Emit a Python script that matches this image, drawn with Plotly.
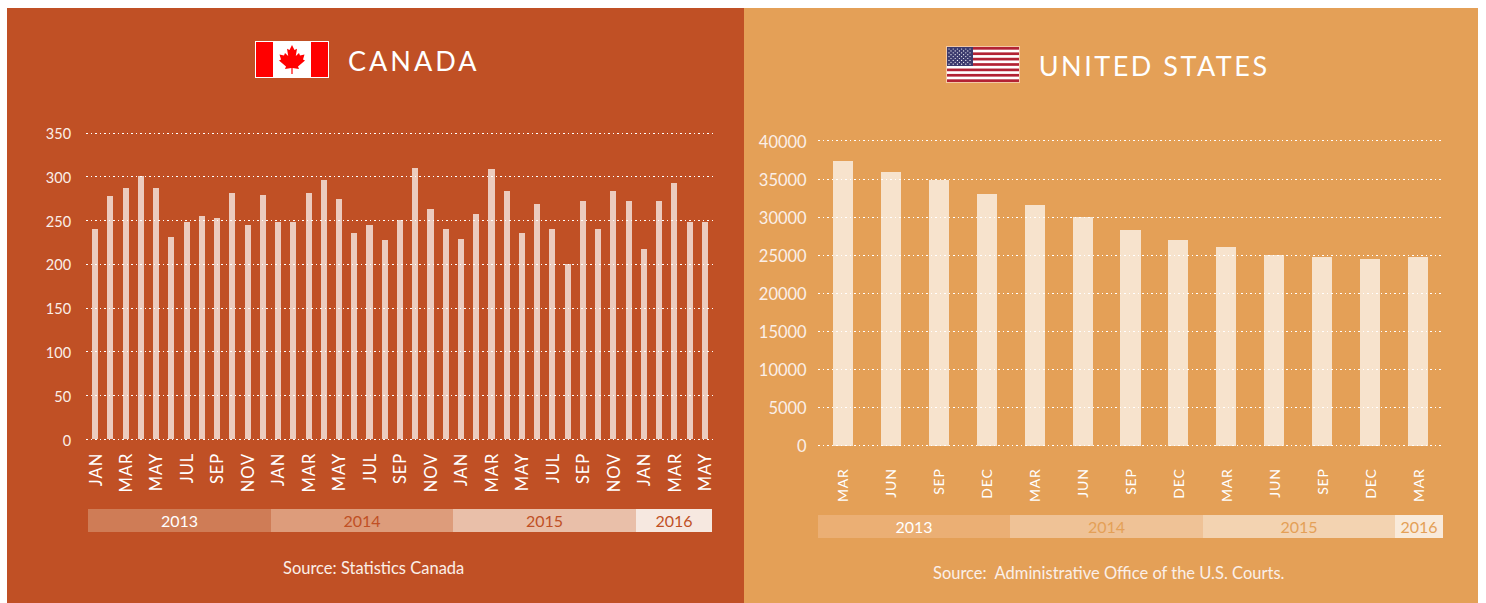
import base64
import plotly.graph_objects as go

W, H = 1486, 603

ca_months = ["JAN","FEB","MAR","APR","MAY","JUN","JUL","AUG","SEP","OCT","NOV","DEC"] * 3 + ["JAN","FEB","MAR","APR","MAY"]
ca_values = [240,278,287,300,287,231,248,255,253,281,244,279,
             248,248,281,296,274,235,244,227,250,310,263,240,
             229,257,308,283,235,268,240,200,272,240,283,272,
             217,272,293,248,248]
ca_yticks = [0,50,100,150,200,250,300,350]
ca_years = ["2013","2014","2015","2016"]
ca_year_months = [12,12,12,5]

us_months = ["MAR","JUN","SEP","DEC"] * 3 + ["MAR"]
us_values = [37400,36000,34900,33100,31600,30000,28300,27000,26100,25000,24800,24500,24800]
us_yticks = [0,5000,10000,15000,20000,25000,30000,35000,40000]
us_years = ["2013","2014","2015","2016"]
us_year_quarters = [4,4,4,1]

CA_BG, US_BG = "#C05025", "#E4A057"
ca_band = ["#CF7C56","#DD9C7B","#E9BFA9","#F6E8E0"]
ca_band_text = ["#FFFFFF",CA_BG,CA_BG,CA_BG]
us_band = ["#EBAF74","#EFC296","#F3D3B1","#F9EADA"]
us_band_text = ["#FFFFFF",US_BG,US_BG,US_BG]
FONT = "Lato"


def dx(a, b):
    return [a / W, b / W]


def dy(top, bottom):
    return [1 - bottom / H, 1 - top / H]


def svg_uri(svg):
    return "data:image/svg+xml;base64," + base64.b64encode(svg.encode()).decode()


def canada_flag():
    half = [(37,4),(39.5,9),(42,7.8),(40.8,15),(44,12),(45,14.5),(49.5,13.5),(48,18.5),(50,19.5),
            (43,25.5),(44,28),(37.6,27),(37.6,33)]
    pts = half + [(74 - x, y) for x, y in reversed(half)]
    poly = " ".join(f"{x},{y}" for x, y in pts)
    return svg_uri(
        '<svg xmlns="http://www.w3.org/2000/svg" width="740" height="370" viewBox="0 0 74 37">'
        '<rect width="74" height="37" fill="#fff"/>'
        '<rect x="1" y="1" width="17" height="35" fill="#f00"/>'
        '<rect x="56" y="1" width="17" height="35" fill="#f00"/>'
        f'<polygon points="{poly}" fill="#f00"/></svg>')


def us_flag():
    s = ('<svg xmlns="http://www.w3.org/2000/svg" width="740" height="370" viewBox="0 0 74 37">'
         '<rect width="74" height="37" fill="#F3C9A5"/><rect x="1" y="1" width="72" height="35" fill="#fff"/>')
    for i in range(0, 13, 2):
        s += f'<rect x="1" y="{1 + i * 35 / 13:.2f}" width="72" height="{35 / 13:.2f}" fill="#B22234"/>'
    s += '<rect x="1" y="1" width="26" height="19" fill="#3C3B6E"/>'
    for r in range(9):
        n = 6 if r % 2 == 0 else 5
        off = 3 if r % 2 == 0 else 5
        for c in range(n):
            s += f'<circle cx="{off + c * 4.2:.1f}" cy="{3 + r * 1.9:.1f}" r="0.6" fill="#fff"/>'
    return svg_uri(s + "</svg>")


fig = go.Figure()

# main bars
fig.add_bar(x=list(range(len(ca_values))), y=ca_values, width=0.4, xaxis="x", yaxis="y",
            marker=dict(color="rgba(255,255,255,0.7)", line_width=0), hoverinfo="skip", showlegend=False)
fig.add_bar(x=list(range(len(us_values))), y=us_values, width=0.42, xaxis="x2", yaxis="y2",
            marker=dict(color="rgba(255,255,255,0.7)", line_width=0), hoverinfo="skip", showlegend=False)

# year bands
for yr, n, col, tc in zip(ca_years, ca_year_months, ca_band, ca_band_text):
    fig.add_bar(x=[n], y=[0], orientation="h", xaxis="x3", yaxis="y3", text=[yr], width=1,
                textposition="inside", insidetextanchor="middle", textangle=0, constraintext="none",
                textfont=dict(family=FONT, size=16, color=tc),
                marker=dict(color=col, line_width=0), hoverinfo="skip", showlegend=False)
for yr, n, col, tc in zip(us_years, us_year_quarters, us_band, us_band_text):
    fig.add_bar(x=[n], y=[0], orientation="h", xaxis="x4", yaxis="y4", text=[yr], width=1,
                textposition="inside", insidetextanchor="middle", textangle=0, constraintext="none",
                textfont=dict(family=FONT, size=16, color=tc),
                marker=dict(color=col, line_width=0), hoverinfo="skip", showlegend=False)

grid = dict(showgrid=True, gridcolor="#FFFFFF", gridwidth=1, griddash="1.5px,3px",
            zeroline=False, showline=False, ticks="outside", tickcolor="rgba(0,0,0,0)",
            tickformat="d", ticklabelshift=1)
xbase = dict(showgrid=False, zeroline=False, showline=False, ticks="outside", tickcolor="rgba(0,0,0,0)",
             tickangle=-90, tickmode="array", ticklabelshift=1)
hidden = dict(visible=False, fixedrange=True)

CA_U = 306.5 / 350      # pixels per unit, left chart
US_U = 304.5 / 40000    # pixels per unit, right chart
ca_idx = list(range(0, len(ca_months), 2))
layout = dict(
    width=W, height=H, margin=dict(l=0, r=0, t=0, b=0, autoexpand=False), autosize=False,
    paper_bgcolor="#FFFFFF", plot_bgcolor="rgba(0,0,0,0)", barmode="stack", bargap=0,
    font=dict(family=FONT, color="#FFFFFF"),
    xaxis=dict(xbase, domain=dx(86, 714), range=[-0.6, 40.6], ticklen=3,
               tickvals=ca_idx, ticktext=[ca_months[i] for i in ca_idx],
               tickfont=dict(family=FONT, color="#FFFFFF", size=16.5)),
    yaxis=dict(grid, domain=dy(133 - 3 * CA_U, 439.5 + 3 * CA_U), range=[-3, 353], tickvals=ca_yticks, ticklen=11,
               anchor="x", tickfont=dict(family=FONT, color="#FBEFE8", size=14.5)),
    xaxis2=dict(xbase, domain=dx(818, 1443), range=[-0.52, 12.52], ticklen=14, anchor="y2",
                tickvals=list(range(len(us_months))), ticktext=us_months,
                tickfont=dict(family=FONT, color="#FFFFFF", size=14)),
    yaxis2=dict(grid, domain=dy(141 - 300 * US_U, 445.5 + 300 * US_U), range=[-300, 40300], tickvals=us_yticks,
                ticklen=7, anchor="x2", tickfont=dict(family=FONT, color="#FBEFE8", size=16.5)),
    xaxis3=dict(hidden, domain=dx(88, 712), range=[0, sum(ca_year_months)], anchor="y3"),
    yaxis3=dict(hidden, domain=dy(509, 532), range=[-0.5, 0.5], anchor="x3"),
    xaxis4=dict(hidden, domain=dx(818, 1443), range=[0, sum(us_year_quarters)], anchor="y4"),
    yaxis4=dict(hidden, domain=dy(515, 538), range=[-0.5, 0.5], anchor="x4"),
    shapes=[
        dict(type="rect", xref="paper", yref="paper", layer="below", line_width=0, fillcolor=CA_BG,
             x0=7 / W, x1=744 / W, y0=0, y1=1 - 8 / H),
        dict(type="rect", xref="paper", yref="paper", layer="below", line_width=0, fillcolor=US_BG,
             x0=744 / W, x1=1478 / W, y0=0, y1=1 - 8 / H),
    ],
    images=[
        dict(source=canada_flag(), xref="paper", yref="paper", x=255 / W, y=1 - 41 / H,
             sizex=74 / W, sizey=37 / H, sizing="stretch", xanchor="left", yanchor="top", layer="above"),
        dict(source=us_flag(), xref="paper", yref="paper", x=946 / W, y=1 - 46 / H,
             sizex=74 / W, sizey=37 / H, sizing="stretch", xanchor="left", yanchor="top", layer="above"),
    ],
    annotations=[
        dict(text="CANADA", x=414 / W, y=1 - 60.5 / H, xref="paper", yref="paper", showarrow=False,
             xanchor="center", yanchor="middle", font=dict(family=FONT, size=27, color="#FFFFFF")),
        dict(text="UNITED STATES", x=1153.5 / W, y=1 - 65.5 / H, xref="paper", yref="paper", showarrow=False,
             xanchor="center", yanchor="middle", font=dict(family=FONT, size=27, color="#FFFFFF")),
        dict(text="Source: Statistics Canada", x=373 / W, y=1 - 568 / H, xref="paper", yref="paper",
             showarrow=False, xanchor="center", yanchor="middle",
             font=dict(family=FONT, size=16.5, color="#FBEFE8")),
        dict(text="Source:  Administrative Office of the U.S. Courts.", x=1108 / W, y=1 - 573 / H,
             xref="paper", yref="paper", showarrow=False, xanchor="center", yanchor="middle",
             font=dict(family=FONT, size=16.5, color="#FBEFE8")),
    ],
)
fig.update_layout(**layout)

post = """
document.body.style.margin = '0';
document.documentElement.style.overflow = 'hidden';
document.querySelectorAll('.annotation-text').forEach(function (t) {
  if (t.textContent === 'CANADA') t.style.letterSpacing = '3px';
  if (t.textContent === 'UNITED STATES') t.style.letterSpacing = '2.5px';
});
document.querySelectorAll('.xtick text').forEach(function (t) { t.style.letterSpacing = '1px'; });
document.querySelectorAll('.x2tick text').forEach(function (t) { t.style.letterSpacing = '0.8px'; });
"""
fig.write_html("out.html", config=dict(displayModeBar=False), post_script=post)
